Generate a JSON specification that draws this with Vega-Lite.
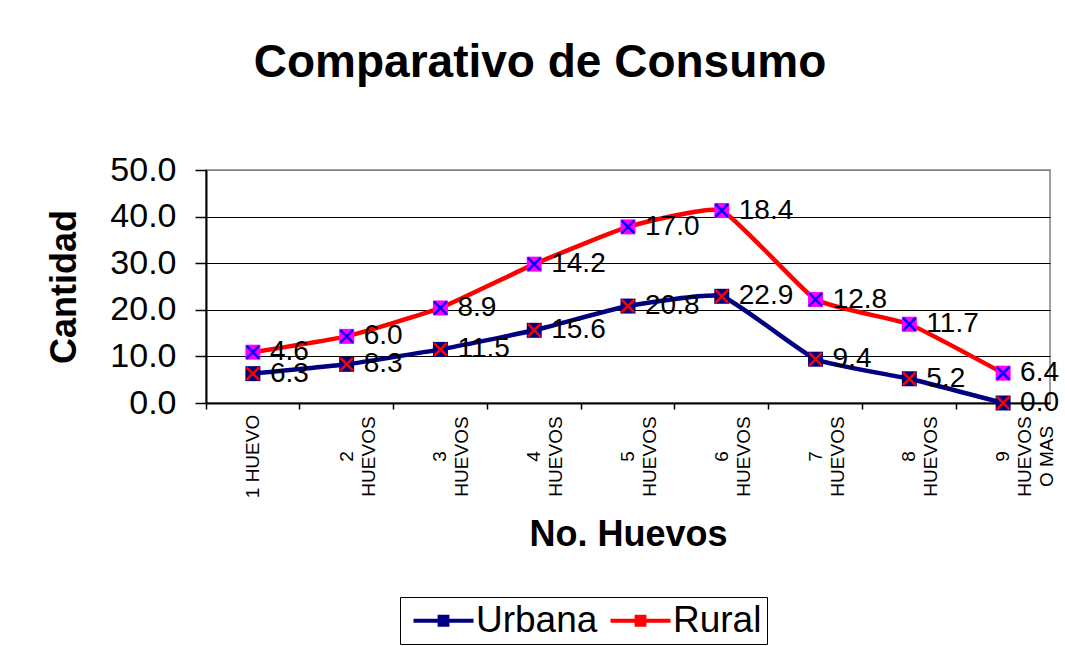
{
  "$schema": "https://vega.github.io/schema/vega-lite/v6.json",
  "width": 844,
  "height": 233,
  "autosize": {"type": "none"},
  "padding": {"left": 206, "top": 170, "right": 15, "bottom": 243},
  "background": "white",
  "config": {
    "font": "Liberation Sans",
    "view": {"stroke": "#808080", "strokeWidth": 1.5}
  },
  "title": {
    "text": "Comparativo de Consumo",
    "font": "Liberation Sans",
    "fontSize": 46,
    "fontWeight": "bold",
    "color": "black",
    "anchor": "middle",
    "frame": "group",
    "baseline": "alphabetic",
    "dx": -88,
    "offset": 30
  },
  "data": {
    "values": [
      {"cat": "1 HUEVO", "series": "Urbana", "value": 6.3},
      {"cat": "2 HUEVOS", "series": "Urbana", "value": 8.3},
      {"cat": "3 HUEVOS", "series": "Urbana", "value": 11.5},
      {"cat": "4 HUEVOS", "series": "Urbana", "value": 15.6},
      {"cat": "5 HUEVOS", "series": "Urbana", "value": 20.8},
      {"cat": "6 HUEVOS", "series": "Urbana", "value": 22.9},
      {"cat": "7 HUEVOS", "series": "Urbana", "value": 9.4},
      {"cat": "8 HUEVOS", "series": "Urbana", "value": 5.2},
      {"cat": "9 HUEVOS O MAS", "series": "Urbana", "value": 0.0},
      {"cat": "1 HUEVO", "series": "Rural", "value": 4.6},
      {"cat": "2 HUEVOS", "series": "Rural", "value": 6.0},
      {"cat": "3 HUEVOS", "series": "Rural", "value": 8.9},
      {"cat": "4 HUEVOS", "series": "Rural", "value": 14.2},
      {"cat": "5 HUEVOS", "series": "Rural", "value": 17.0},
      {"cat": "6 HUEVOS", "series": "Rural", "value": 18.4},
      {"cat": "7 HUEVOS", "series": "Rural", "value": 12.8},
      {"cat": "8 HUEVOS", "series": "Rural", "value": 11.7},
      {"cat": "9 HUEVOS O MAS", "series": "Rural", "value": 6.4}
    ]
  },
  "transform": [
    {"stack": "value", "groupby": ["cat"], "sort": [{"field": "series", "order": "descending"}], "as": ["y0", "y1"]}
  ],
  "encoding": {
    "x": {
      "field": "cat",
      "type": "nominal",
      "sort": ["1 HUEVO", "2 HUEVOS", "3 HUEVOS", "4 HUEVOS", "5 HUEVOS", "6 HUEVOS", "7 HUEVOS", "8 HUEVOS", "9 HUEVOS O MAS"],
      "scale": {"type": "band", "paddingInner": 0, "paddingOuter": 0},
      "axis": {
        "title": "No. Huevos",
        "titleFont": "Liberation Sans",
        "titleFontSize": 36,
        "titleFontWeight": "bold",
        "titleColor": "black",
        "titleBaseline": "alphabetic",
        "titleY": 142,
        "bandPosition": 0,
        "labelOffset": 0,
        "labelAngle": 270,
        "labelAlign": "center",
        "labelBaseline": "middle",
        "labelPadding": 47,
        "labelFontSize": 19,
        "labelLineHeight": 22,
        "labelColor": "black",
        "labelExpr": "datum.value == '1 HUEVO' ? '1 HUEVO' : (datum.value == '9 HUEVOS O MAS' ? ['9', 'HUEVOS', 'O MAS'] : split(datum.value, ' '))",
        "tickSize": 6,
        "tickColor": "black",
        "tickWidth": 1.5,
        "domainColor": "black",
        "domainWidth": 2,
        "grid": false
      }
    },
    "y": {
      "field": "y1",
      "type": "quantitative",
      "scale": {"domain": [0, 50]},
      "axis": {
        "title": "Cantidad",
        "titleFont": "Liberation Sans",
        "titleFontSize": 36,
        "titleFontWeight": "bold",
        "titleColor": "black",
        "titleAngle": 270,
        "titleAlign": "center",
        "titleBaseline": "alphabetic",
        "titleX": -131,
        "titleY": 116.5,
        "values": [0, 10, 20, 30, 40, 50],
        "format": ".1f",
        "labelFontSize": 34,
        "labelColor": "black",
        "labelPadding": 19,
        "tickSize": 11,
        "tickColor": "black",
        "tickWidth": 1.5,
        "domainColor": "black",
        "domainWidth": 2,
        "grid": true,
        "gridColor": {"condition": {"test": "datum.value == 50", "value": "#808080"}, "value": "black"},
        "gridWidth": 1
      }
    }
  },
  "layer": [
    {
      "mark": {"type": "line", "interpolate": "cardinal", "tension": 0.6, "strokeWidth": 4.5},
      "encoding": {
        "color": {
          "field": "series",
          "type": "nominal",
          "scale": {"domain": ["Urbana", "Rural"], "range": ["#000080", "#FF0000"]},
          "legend": {
            "title": null,
            "orient": "none",
            "legendX": 194,
            "legendY": 427,
            "direction": "horizontal",
            "strokeColor": "black",
            "fillColor": "white",
            "padding": 5,
            "columnPadding": 4,
            "labelFont": "Liberation Sans",
            "labelFontSize": 37,
            "labelColor": "black",
            "symbolOffset": 20,
            "labelOffset": 14,
            "symbolType": "M-2,0H2M-0.26,-0.26H0.26V0.26H-0.26Z",
            "symbolSize": 900,
            "symbolStrokeWidth": 4,
            "encode": {
              "symbols": {"update": {"fill": {"scale": "color", "field": "value"}, "stroke": {"scale": "color", "field": "value"}}}
            }
          }
        },
        "detail": {"field": "series"}
      }
    },
    {
      "mark": {"type": "point", "shape": "square", "filled": true, "size": 225, "opacity": 1},
      "encoding": {
        "detail": {"field": "series"},
        "fill": {"condition": {"test": "datum.series == 'Urbana'", "value": "#000080"}, "value": "#FF00FF"}
      }
    },
    {
      "mark": {"type": "point", "shape": "M-1,-1L1,1M-1,1L1,-1", "filled": false, "size": 160, "strokeWidth": 2.5, "opacity": 1},
      "encoding": {
        "detail": {"field": "series"},
        "stroke": {"condition": {"test": "datum.series == 'Urbana'", "value": "#FF0000"}, "value": "#0000FF"}
      }
    },
    {
      "mark": {"type": "text", "align": "left", "baseline": "middle", "dx": 17, "fontSize": 28, "font": "Liberation Sans", "color": "black"},
      "encoding": {
        "detail": {"field": "series"},
        "text": {"field": "value", "type": "quantitative", "format": ".1f"}
      }
    }
  ]
}
